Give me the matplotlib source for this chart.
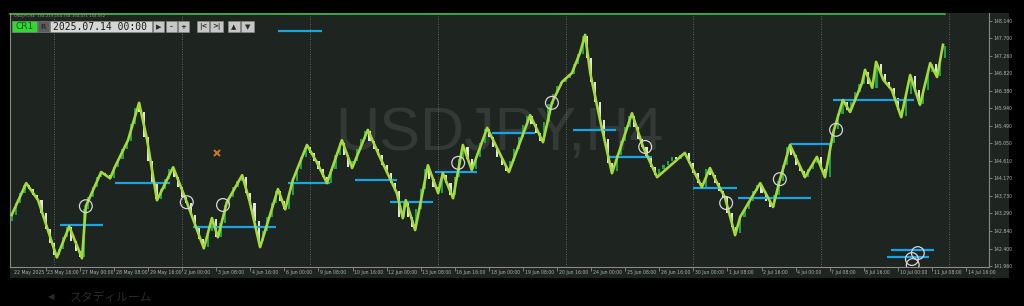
import numpy as np
import matplotlib
matplotlib.use('Agg')
import matplotlib.pyplot as plt
from matplotlib.patches import Rectangle

# right price scale
price_ticks = [148.140, 147.700, 147.260, 146.820, 146.380, 145.940, 145.490, 145.050,
               144.610, 144.170, 143.730, 143.290, 142.840, 142.400, 141.960]
price_labels = ['%.3f' % p for p in price_ticks]

# bottom time scale (one label every 8 H4 bars)
first_label = '22 May 2025'
date_labels = ['23 May 16:00', '27 May 00:00', '28 May 08:00', '29 May 16:00', '2 Jun 00:00',
               '3 Jun 08:00', '4 Jun 16:00', '6 Jun 00:00', '9 Jun 08:00', '10 Jun 16:00',
               '12 Jun 00:00', '13 Jun 08:00', '16 Jun 16:00', '18 Jun 00:00', '19 Jun 08:00',
               '20 Jun 16:00', '24 Jun 00:00', '25 Jun 08:00', '26 Jun 16:00', '30 Jun 00:00',
               '1 Jul 08:00', '2 Jul 16:00', '4 Jul 00:00', '7 Jul 08:00', '8 Jul 16:00',
               '10 Jul 00:00', '11 Jul 08:00', '14 Jul 16:00']
label_step = 8
week_bars = [10, 40, 70, 100, 130, 160, 190, 220]

# H4 closes
first_open = 143.10
closes = [143.25, 143.55, 143.80, 144.00, 143.90, 143.75, 143.62, 143.30, 142.90, 142.55,
          142.25, 142.40, 142.70, 142.95, 142.60, 142.35, 142.20, 143.40, 143.70, 143.95,
          144.20, 144.30, 144.25, 144.18, 144.45, 144.65, 144.90, 145.10, 145.55, 145.95,
          145.85, 145.20, 144.60, 144.05, 143.65, 143.90, 144.15, 144.40, 144.20, 143.95,
          143.70, 143.55, 143.25, 142.95, 142.65, 142.45, 142.85, 143.15, 142.70, 143.05,
          143.50, 143.70, 143.95, 144.10, 144.20, 143.80, 143.55, 143.10, 142.60, 142.85,
          143.20, 143.55, 143.85, 143.60, 143.40, 143.75, 144.10, 144.40, 144.70, 144.95,
          144.80, 144.60, 144.40, 144.20, 144.05, 144.40, 144.75, 145.05, 144.75, 144.45,
          144.60, 144.90, 145.15, 145.35, 145.10, 144.90, 144.75, 144.50, 144.30, 144.05,
          143.85, 143.20, 143.60, 143.20, 142.95, 143.40, 143.90, 144.40, 144.15, 143.95,
          143.80, 144.25, 144.05, 143.75, 144.20, 144.65, 144.95, 144.65, 144.40, 144.70,
          145.05, 145.40, 145.20, 144.95, 144.70, 144.50, 144.35, 144.60, 144.90, 145.20,
          145.50, 145.75, 145.55, 145.30, 145.10, 145.60, 146.05, 146.30, 146.50, 146.60,
          146.70, 146.80, 147.05, 147.30, 147.75, 147.20, 146.60, 146.10, 145.65, 145.15,
          144.55, 144.35, 144.75, 145.10, 145.45, 145.75, 145.45, 145.15, 144.95, 144.70,
          144.45, 144.25, 144.40, 144.50, 144.60, 144.70, 144.65, 144.75, 144.80, 144.55,
          144.30, 144.05, 143.95, 144.40, 144.25, 144.05, 143.85, 143.70, 143.30, 142.95,
          142.80, 143.20, 143.40, 143.60, 143.85, 144.00, 143.80, 143.60, 143.45, 143.75,
          144.10, 144.50, 144.95, 144.75, 144.50, 144.35, 144.20, 144.40, 144.55, 144.70,
          144.40, 144.20, 145.05, 145.40, 145.80, 146.10, 145.90, 146.10, 146.35, 146.55,
          146.85, 146.55, 146.45, 147.05, 146.80, 146.60, 146.45, 146.20, 145.90, 145.75,
          146.30, 146.75, 146.40, 146.05, 146.40, 146.85, 147.05, 146.75, 147.20, 147.50]

# swing line vertices (bar, price)
swing_bar = [0, 3.4, 6.2, 10.6, 13.5, 16.5, 17.4, 21.0, 23.1, 24.2, 27.3, 29.9, 31.8, 34.1,
             37.9, 41.1, 45.1, 47.0, 48.4, 50.5, 54.1, 55.9, 58.3, 62.5, 64.2, 66.0, 69.3,
             71.7, 74.0, 77.5, 79.9, 83.6, 86.4, 90.4, 91.8, 92.5, 94.7, 97.7, 100.1, 101.2,
             103.6, 105.9, 108.0, 111.6, 116.7, 121.7, 124.7, 126.8, 129.2, 131.5, 133.4,
             134.6, 135.8, 138.1, 140.9, 145.6, 148.2, 151.5, 158.0, 162.0, 163.9, 165.6,
             167.4, 169.8, 171.0, 175.7, 178.7, 180.3, 182.7, 186.2, 189.0, 190.9, 192.8,
             195.1, 196.8, 199.6, 200.3, 202.0, 202.9, 204.6, 206.6, 208.8, 210.9, 213.2,
             215.6, 217.2, 218.6]
swing_price = [143.25, 144.05, 143.62, 142.18, 142.96, 142.16, 143.47, 144.33, 144.17, 144.45,
               145.13, 146.07, 145.13, 143.62, 144.45, 143.57, 142.41, 143.17, 142.69, 143.57,
               144.25, 143.57, 142.44, 143.90, 143.39, 144.13, 145.01, 144.56, 144.05, 145.13,
               144.43, 145.39, 144.71, 143.80, 143.17, 143.62, 142.87, 144.50, 143.80, 144.30,
               143.67, 145.01, 144.38, 145.44, 144.33, 145.76, 145.08, 146.07, 146.60, 146.82,
               147.33, 147.78, 146.82, 145.64, 144.30, 145.81, 144.96, 144.20, 144.81, 143.95,
               144.43, 144.05, 143.70, 142.74, 143.20, 144.05, 143.45, 144.13, 145.01, 144.20,
               144.71, 144.20, 145.31, 146.14, 145.84, 146.57, 146.90, 146.45, 147.10, 146.65,
               146.39, 145.71, 146.77, 146.02, 147.07, 146.72, 147.53]

# blue levels
lvl_start = [11.3, 24.3, 42.6, 64.9, 62.5, 80.6, 88.8, 99.4, 112.7, 131.8, 140.0, 159.9,
             170.5, 182.7, 192.8, 206.4, 205.5]
lvl_end = [21.4, 37.2, 62.0, 74.7, 72.8, 90.4, 98.9, 109.2, 122.8, 141.9, 150.3, 170.3,
           187.6, 192.6, 211.8, 216.5, 215.3]
lvl_price = [143.00, 144.05, 142.94, 144.05, 147.88, 144.13, 143.57, 144.33, 145.31, 145.39,
             144.71, 143.92, 143.67, 145.03, 146.14, 142.36, 142.19]

# circle marks
mark_bar = [17.4, 41.1, 49.6, 104.8, 126.8, 148.7, 167.7, 180.3, 193.5, 212.7, 211.3, 211.5]
mark_price = [143.47, 143.57, 143.50, 144.56, 146.07, 144.96, 143.55, 144.15, 145.39,
              142.29, 142.14, 141.99]

cross_bar = [48.2]
cross_price = [144.80]

BG = '#1e2521'
W, H = 1024, 306
fig = plt.figure(figsize=(W / 100, H / 100), dpi=100, facecolor='black')

back = fig.add_axes([0, 0, 1, 1], zorder=0)
back.set_xlim(0, W)
back.set_ylim(H, 0)
back.axis('off')
back.add_patch(Rectangle((10, 13), 999, 265, color=BG, lw=0))
back.text(70, 297, 'スタディルーム', color='#2b2b2b', fontsize=8.5,
          family=['Noto Sans CJK JP', 'DejaVu Sans'], va='center')
back.text(48, 297, '◀', color='#2b2b2b', fontsize=6, va='center')

ax = fig.add_axes([10 / W, (H - 267) / H, 979 / W, 254 / H], zorder=1)
ax.set_facecolor(BG)
ax.set_xlim(-0.4, 229.4)
ax.set_ylim(141.94, 148.33)

ax.text(0.5, 0.52, 'USDJPY,H4', transform=ax.transAxes, ha='center', va='center',
        fontsize=44, color='#333a36', family='Liberation Sans', zorder=0.5)

for b in week_bars:
    ax.axvline(b, color='#7a7a7a', lw=0.6, ls=(0, (1, 2)), zorder=0.6)

n = len(closes)
bars = np.arange(n)
c = np.array(closes)
o = np.concatenate([[first_open], c[:-1]])
up = c >= o
ax.bar(bars[up], (c - o)[up], bottom=o[up], width=0.5, color='#1f9e4e', lw=0, zorder=2)
ax.bar(bars[~up], (c - o)[~up], bottom=o[~up], width=0.5, color='#e2e2e2', lw=0, zorder=2)

ax.hlines(lvl_price, lvl_start, lvl_end, color='#1ba3e4', lw=1.6, zorder=3)
ax.plot(swing_bar, swing_price, color='#a6d93a', lw=1.9, zorder=4)
ax.scatter(mark_bar, mark_price, s=85, facecolors='none', edgecolors='#d6d6d6', lw=0.9, zorder=5)
ax.plot(cross_bar, cross_price, 'x', color='#cf7a22', ms=4.5, mew=1.4, zorder=5)

for side in ['left', 'right', 'bottom']:
    ax.spines[side].set_color('#8a8a8a')
    ax.spines[side].set_linewidth(0.8)
ax.spines['top'].set_visible(False)

ax.yaxis.tick_right()
ax.set_yticks(price_ticks)
ax.set_yticklabels(price_labels)
ax.tick_params(axis='y', colors='#8a8a8a', labelcolor='#b0b0b0', labelsize=3.3,
               length=2, width=0.6, pad=1)

ax.set_xticks([label_step * (i + 1) for i in range(len(date_labels))])
ax.set_xticklabels([])
ax.tick_params(axis='x', colors='#8a8a8a', length=3, width=0.6)
ax.text(0.5, -0.022, first_label, transform=ax.get_xaxis_transform(), fontsize=3.3,
        color='#b0b0b0', ha='left', va='center')
for i, lab in enumerate(date_labels):
    ax.text(label_step * (i + 1) + 0.4, -0.022, lab, transform=ax.get_xaxis_transform(),
            fontsize=3.3, color='#b0b0b0', ha='left', va='center', clip_on=False)

# header / toolbar
top = fig.add_axes([0, 0, 1, 1], zorder=3)
top.set_xlim(0, W)
top.set_ylim(H, 0)
top.axis('off')
top.patch.set_alpha(0)
top.plot([10, 945], [13.5, 13.5], color='#3ccf3c', lw=1.1)
top.text(14, 16.3, 'USDJPY,H4  154.219 154.754 154.471 154.552', fontsize=2.8,
         color='#9a9a9a', va='center')

buttons = [(12, 37, '#34d634', 'CR1', '#145a1a'),
           (38, 49, '#5c5c5c', 'R', '#2c2c2c'),
           (50, 152, '#d6d6d6', '2025.07.14 00:00', '#1a1a1a'),
           (153, 164, '#c6c6c6', '▶', '#2a2a2a'),
           (166, 177, '#c6c6c6', '-', '#2a2a2a'),
           (178, 189, '#c6c6c6', '+', '#2a2a2a'),
           (197, 209, '#c6c6c6', '|<', '#2a2a2a'),
           (210, 223, '#c6c6c6', '>|', '#2a2a2a'),
           (228, 240, '#c6c6c6', '▲', '#2a2a2a'),
           (241, 254, '#c6c6c6', '▼', '#2a2a2a')]
for x0, x1, fc, txt, tc in buttons:
    top.add_patch(Rectangle((x0, 21), x1 - x0, 11, facecolor=fc, edgecolor='#8c8c8c', lw=0.4))
    if txt.startswith('2025'):
        top.text(x0 + 3, 26.7, txt, fontsize=7, family='DejaVu Sans Mono', color=tc,
                 va='center', ha='left')
    elif txt == 'CR1':
        top.text((x0 + x1) / 2, 26.7, txt, fontsize=6.5, color=tc, va='center', ha='center')
    else:
        top.text((x0 + x1) / 2, 26.7, txt, fontsize=5, color=tc, va='center', ha='center',
                 fontweight='bold')

fig.savefig('out.png', dpi=100, facecolor='black')
